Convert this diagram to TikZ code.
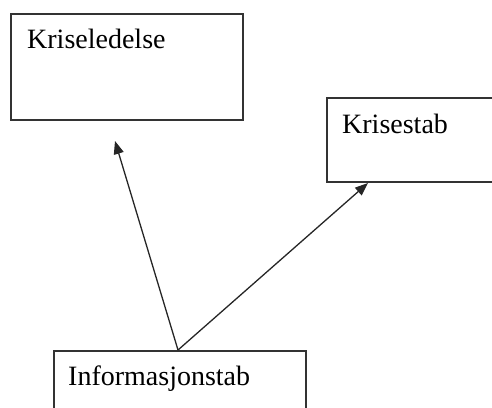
\documentclass[tikz,border=0pt]{standalone}
\usepackage{fontspec}
\setmainfont{Liberation Serif}
\usetikzlibrary{arrows.meta}
\begin{document}
\begin{tikzpicture}[x=1pt,y=-1pt,
  box/.style={draw=black!80,line width=1.8pt,inner sep=0pt,anchor=north west},
  lbl/.style={anchor=base west,inner sep=0pt,font=\fontsize{28}{30}\selectfont},
  conn/.style={draw=black!85,line width=1.3pt,-{Triangle[length=13pt,width=10pt]}}]
\useasboundingbox (0,0) rectangle (492,407);
\clip (0,0) rectangle (492,407);
\node[box,minimum width=232pt,minimum height=106pt] (kl) at (10,13) {};
\node[box,minimum width=180pt,minimum height=84pt] (ks) at (326,97) {};
\node[box,minimum width=252pt,minimum height=80pt] (info) at (53,350) {};
\node[lbl] (tkl) at (27,48) {Kriseledelse};
\node[lbl] (tks) at (342,133) {Krisestab};
\node[lbl] (tinfo) at (68,385) {Informasjonstab};
\coordinate (src) at (178,350);
\coordinate (t1) at (115,141);
\coordinate (t2) at (368,183);
\draw[conn] (src) -- (t1);
\draw[conn] (src) -- (t2);
\end{tikzpicture}
\end{document}
